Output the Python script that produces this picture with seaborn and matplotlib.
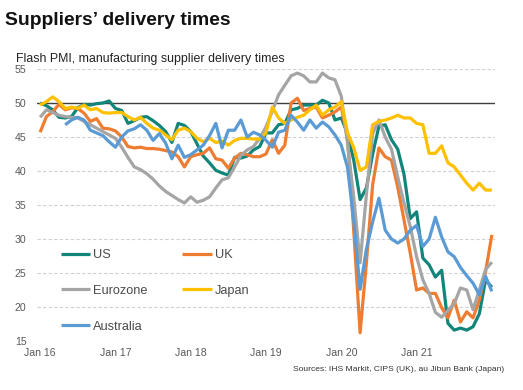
import numpy as np
import pandas as pd
import matplotlib
matplotlib.use("Agg")
import matplotlib.pyplot as plt
import seaborn as sns

# ---------------- data (monthly, Jan 2016 .. Jan 2022) ----------------
tick_labels = ["Jan 16", "Jan 17", "Jan 18", "Jan 19", "Jan 20", "Jan 21"]
series_names = ["US", "UK", "Eurozone", "Japan", "Australia"]

us = [50.0, 49.6, 49.0, 47.9, 47.8, 48.0, 49.3, 49.8, 49.7, 49.9, 50.0, 50.3,
      49.2, 48.9, 47.0, 47.4, 47.9, 48.0, 47.4, 46.7, 45.8, 44.2, 47.0, 46.7,
      45.8, 44.0, 42.2, 41.2, 40.1, 39.7, 39.4, 42.0, 41.9, 42.2, 43.1, 43.6,
      45.6, 45.6, 46.8, 47.0, 49.0, 49.2, 49.7, 49.7, 49.7, 50.4, 50.0, 47.5,
      47.8, 45.5, 41.5, 35.8, 37.5, 42.5, 46.6, 46.8, 44.6, 43.2, 39.5, 33.0,
      34.0, 27.2, 26.2, 24.4, 25.4, 17.6, 16.6, 16.9, 16.6, 17.1, 19.0, 24.0,
      22.9]
uk = [45.7, 48.0, 48.7, 49.8, 49.0, 49.3, 49.2, 48.5, 47.3, 47.7, 46.3, 46.2,
      45.9, 45.0, 43.6, 43.4, 43.5, 43.3, 43.3, 43.2, 43.0, 42.8, 42.1, 40.6,
      42.1, 42.4, 42.6, 43.4, 41.8, 41.6, 40.4, 41.9, 42.6, 42.4, 42.1, 42.1,
      42.5, 44.6, 42.6, 43.8, 50.0, 50.7, 48.9, 49.2, 49.4, 47.8, 48.2, 48.7,
      49.4, 44.8, 31.0, 16.2, 26.5, 38.0, 43.4, 42.1, 41.6, 37.6, 32.8, 27.9,
      22.5, 22.8, 22.0, 22.0, 19.9, 18.4, 21.0, 17.8, 19.3, 18.4, 21.0, 25.2,
      30.6]
eurozone = [47.9, 49.0, 48.6, 48.2, 48.0, 47.9, 47.8, 47.3, 46.8, 46.3, 45.8, 45.3,
            44.8, 43.5, 42.0, 40.6, 40.2, 39.6, 38.8, 37.8, 37.0, 36.4, 35.8, 35.3,
            36.2, 35.4, 35.7, 36.2, 37.5, 38.7, 39.0, 40.6, 42.3, 43.1, 43.6, 44.8,
            46.5, 48.8, 51.2, 52.6, 54.0, 54.4, 54.0, 53.1, 53.1, 54.4, 53.7, 53.4,
            51.0, 44.0, 36.0, 26.5, 36.5, 45.5, 47.5, 45.0, 43.2, 39.1, 35.3, 31.8,
            27.4, 24.0, 22.0, 19.2, 18.5, 19.5, 20.5, 22.8, 22.5, 19.6, 22.5, 25.5,
            26.6]
japan = [49.7, 50.2, 50.9, 50.2, 49.2, 49.4, 49.2, 49.7, 49.0, 49.2, 48.6, 48.5,
         48.6, 48.6, 48.0, 47.5, 47.9, 47.0, 46.3, 46.0, 45.3, 44.6, 46.0, 46.3,
         45.8, 44.8, 44.3, 44.8, 44.2, 44.4, 43.8, 44.5, 44.8, 44.8, 44.7, 44.7,
         45.6, 49.4, 47.8, 47.0, 47.5, 47.9, 48.2, 49.0, 49.7, 48.2, 49.0, 49.4,
         50.2, 45.6, 43.4, 40.1, 40.6, 46.8, 47.3, 47.5, 47.8, 48.2, 47.8, 47.8,
         47.0, 46.8, 42.6, 42.6, 43.7, 41.2, 40.6, 39.4, 38.2, 37.2, 38.2, 37.2,
         37.2]
australia = [np.nan, np.nan, np.nan, np.nan,
             46.8, 47.5, 47.9, 47.5, 46.0, 45.6, 45.2, 44.3,
             43.5, 45.0, 45.9, 46.2, 46.8, 46.0, 44.5, 45.5, 44.1, 41.8, 43.8, 42.0,
             42.4, 43.1, 43.8, 45.2, 47.0, 43.4, 46.0, 46.0, 47.5, 45.0, 45.7, 45.3,
             44.5, 43.5, 45.7, 46.0, 48.2, 47.2, 46.0, 47.5, 46.3, 47.2, 46.5, 45.3,
             43.8, 40.5, 32.5, 22.6, 28.5, 32.5, 36.0, 31.3, 30.0, 29.4, 30.0, 31.3,
             32.0, 28.9, 30.0, 33.2, 30.3, 28.1, 27.4, 25.8, 24.6, 23.5, 21.8, 24.5,
             22.3]

colors = ["#12857A", "#EE7D31", "#A5A5A5", "#FFC000", "#5B9BD5"]

months = np.arange(len(us))
df = pd.concat([
    pd.DataFrame({"month": months, "value": vals, "series": name})
    for name, vals in zip(series_names, [us, uk, eurozone, japan, australia])
], ignore_index=True).dropna()

# ---------------- figure ----------------
W, H = 523, 390
fig = plt.figure(figsize=(W / 100, H / 100), dpi=100)
ax = fig.add_axes([37 / W, 1 - 341 / H, (495 - 37) / W, (341 - 69) / H])

sns.set_style("white")
plt.rcParams["font.family"] = ["Liberation Sans", "DejaVu Sans"]

sns.lineplot(data=df, x="month", y="value", hue="series", hue_order=series_names,
             palette=colors, linewidth=2.3, legend=False, ax=ax, sort=True)
lines = list(ax.get_lines())
for ln in lines:
    ln.set_solid_capstyle("butt")
    ln.set_solid_joinstyle("round")

ax.axhline(50, color="#404040", linewidth=1.0, zorder=1.5)

ax.set_xlim(-0.5, len(us) - 0.5)
ax.set_ylim(15, 55)
ax.set_yticks(np.arange(15, 56, 5))
ax.set_xticks(np.arange(0, 12 * len(tick_labels), 12))
ax.set_xticklabels(tick_labels)
ax.set_xlabel("")
ax.set_ylabel("")
ax.yaxis.grid(True, color="#D0D0D0", linestyle=(0, (3, 2)), linewidth=0.8)
ax.xaxis.grid(False)
ax.set_axisbelow(True)
for s in ax.spines.values():
    s.set_visible(False)
ax.tick_params(axis="both", length=0, labelsize=7.6, labelcolor="#595959",
               labelfontfamily="Liberation Sans")
ax.tick_params(axis="y", pad=7.5)
ax.tick_params(axis="x", pad=5)

# legend: row-wise order US, UK / Eurozone, Japan / Australia
order = [0, 2, 4, 1, 3]
leg = ax.legend([lines[i] for i in order], [series_names[i] for i in order],
                ncol=2, loc="center left", bbox_to_anchor=(0.052, 0.184),
                frameon=False, fontsize=9.2, handlelength=2.3, handletextpad=0.25,
                labelspacing=1.85, columnspacing=2.7, borderpad=0, borderaxespad=0)
for t in leg.get_texts():
    t.set_color("#4A4A4A")
for h in leg.get_lines():
    h.set_linewidth(2.3)

fig.text(5 / W, 1 - 25 / H, "Suppliers\u2019 delivery times", fontsize=13.9,
         fontweight="bold", color="#111111", va="baseline", ha="left",
         family="Liberation Sans")
fig.text(16 / W, 1 - 62 / H, "Flash PMI, manufacturing supplier delivery times",
         fontsize=8.9, color="#222222", va="baseline", ha="left", family="Liberation Sans")
fig.text(504 / W, 1 - 371 / H, "Sources: IHS Markit, CIPS (UK), au Jibun Bank (Japan)",
         fontsize=6.1, color="#333333", va="baseline", ha="right", family="Liberation Sans")

fig.savefig("out.png", dpi=100)
